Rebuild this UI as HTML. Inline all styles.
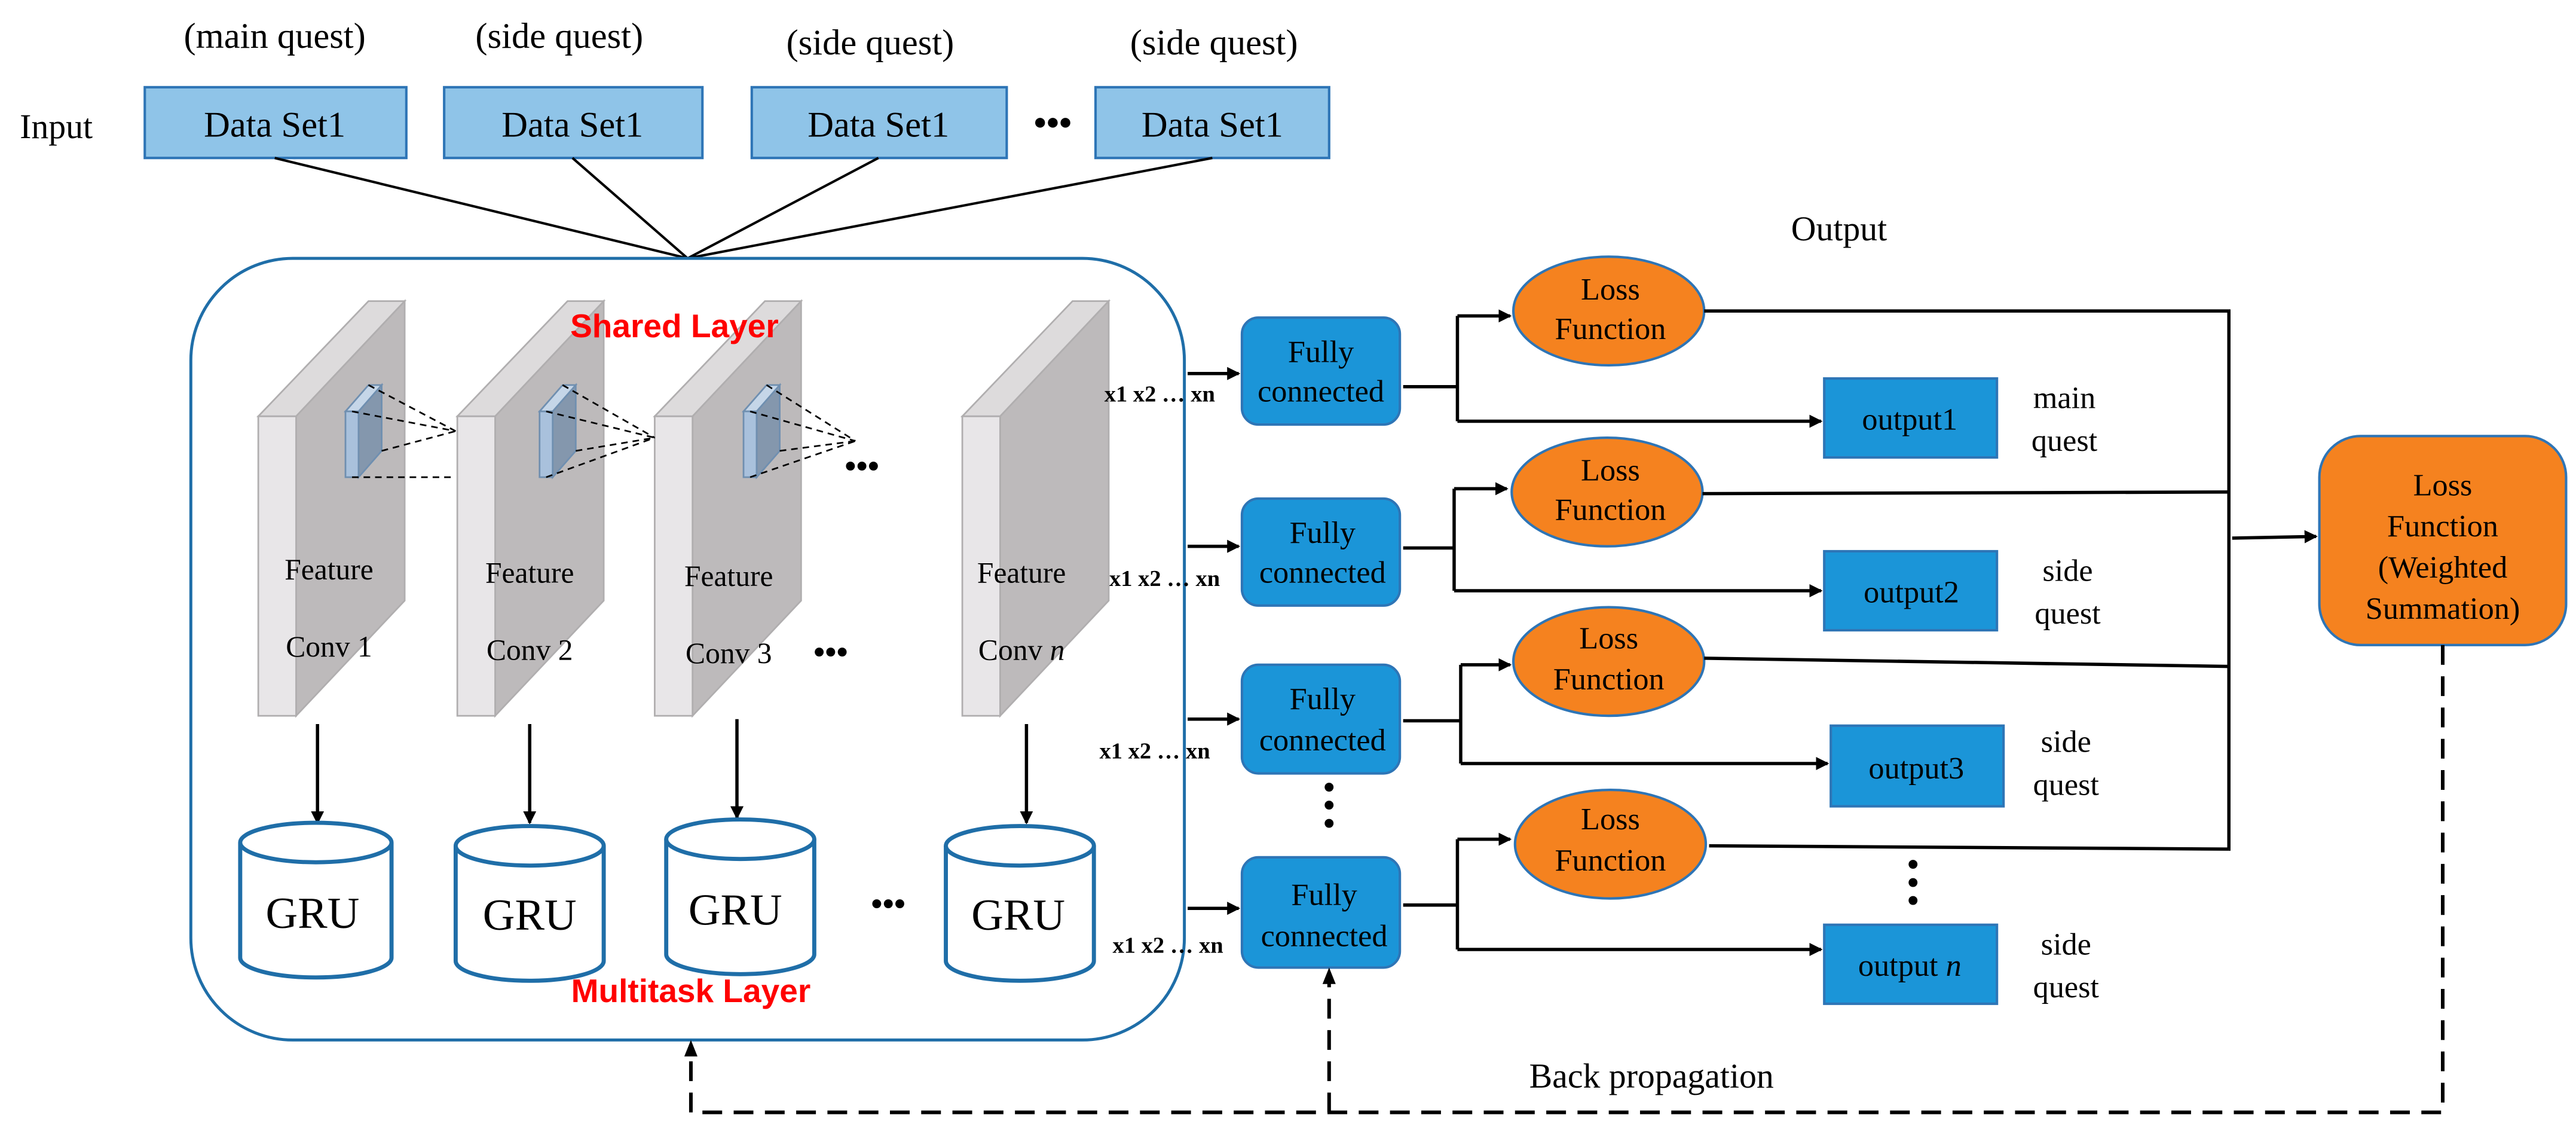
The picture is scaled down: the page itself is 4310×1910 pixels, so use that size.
<!DOCTYPE html>
<html><head><meta charset="utf-8"><style>html,body{margin:0;padding:0;background:#fff}svg{display:block}</style></head><body>
<svg width="4310" height="1910" viewBox="0 0 1566 694" xmlns="http://www.w3.org/2000/svg" font-family="Liberation Serif, serif">
<defs>
<marker id="ah" markerWidth="8" markerHeight="8" refX="7" refY="4" orient="auto" markerUnits="userSpaceOnUse"><path d="M0,0 L8,4 L0,8 z" fill="#000"/></marker>
</defs>
<rect width="1566" height="694" fill="#fff"/>
<text x="12" y="84" font-size="21">Input</text>
<g fill="#8fc4e8" stroke="#2e75b6" stroke-width="1.5">
<rect x="88" y="53" width="159" height="43"/>
<rect x="270" y="53" width="157" height="43"/>
<rect x="457" y="53" width="155" height="43"/>
<rect x="666" y="53" width="142" height="43"/>
</g>
<g font-size="22" text-anchor="middle">
<text x="167" y="83">Data Set1</text><text x="348" y="83">Data Set1</text><text x="534" y="83">Data Set1</text><text x="737" y="83">Data Set1</text>
<text x="167" y="29">(main quest)</text><text x="340" y="29">(side quest)</text><text x="529" y="33">(side quest)</text><text x="738" y="33">(side quest)</text>
</g>
<text x="640" y="82" font-size="22" text-anchor="middle" font-weight="bold">•••</text>
<g stroke="#000" stroke-width="1.5">
<line x1="167" y1="96" x2="418" y2="157"/><line x1="348" y1="96" x2="418" y2="157"/><line x1="534" y1="96" x2="418" y2="157"/><line x1="737" y1="96" x2="418" y2="157"/>
</g>
<rect x="116" y="157" width="604" height="475" rx="62" fill="none" stroke="#1f6ea8" stroke-width="1.8"/>
<g stroke="#b0aeaf" stroke-width="1">
<g id="s1">
<polygon points="157,253 180,253 246,183 224,183" fill="#dddbdc"/>
<polygon points="180,253 246,183 246,365 180,435" fill="#bdbabb"/>
<rect x="157" y="253" width="23" height="182" fill="#e8e6e8"/>
</g>
<use href="#s1" x="121"/><use href="#s1" x="241"/><use href="#s1" x="428"/>
</g>
<g stroke="#6f8fb0" stroke-width="1">
<polygon points="210,250 224,234 232,234 218,250" fill="#c5d6e8"/><rect x="210" y="250" width="8" height="40" fill="#a9c1dc"/><polygon points="218,250 232,234 232,274 218,290" fill="#8497ad"/>
<polygon points="328,250 342,234 350,234 336,250" fill="#c5d6e8"/><rect x="328" y="250" width="8" height="40" fill="#a9c1dc"/><polygon points="336,250 350,234 350,274 336,290" fill="#8497ad"/>
<polygon points="452,250 466,234 474,234 460,250" fill="#c5d6e8"/><rect x="452" y="250" width="8" height="40" fill="#a9c1dc"/><polygon points="460,250 474,234 474,274 460,290" fill="#8497ad"/>
</g>
<g stroke="#000" stroke-width="1" stroke-dasharray="4,3" fill="none">
<path d="M224,234 L277,262 M214,250 L277,262 M232,274 L277,262 M214,290 L277,290"/>
<path d="M342,234 L398,266 M332,250 L398,266 M350,274 L398,266 M332,290 L398,266"/>
<path d="M466,234 L520,268 M456,250 L520,268 M474,274 L520,268 M456,290 L520,268"/>
</g>
<g font-size="18" text-anchor="middle">
<text x="200" y="352">Feature</text><text x="200" y="399">Conv 1</text>
<text x="322" y="354">Feature</text><text x="322" y="401">Conv 2</text>
<text x="443" y="356">Feature</text><text x="443" y="403">Conv 3</text>
<text x="621" y="354">Feature</text><text x="621" y="401">Conv <tspan font-style="italic">n</tspan></text>
</g>
<g font-size="20" font-weight="bold" text-anchor="middle"><text x="524" y="290">•••</text><text x="505" y="403">•••</text><text x="540" y="556">•••</text></g>
<text x="410" y="205" font-family="Liberation Sans, sans-serif" font-size="20" font-weight="bold" fill="#ff0000" text-anchor="middle">Shared Layer</text>
<text x="420" y="609" font-family="Liberation Sans, sans-serif" font-size="20" font-weight="bold" fill="#ff0000" text-anchor="middle">Multitask  Layer</text>
<g stroke="#000" stroke-width="2" marker-end="url(#ah)">
<line x1="193" y1="440" x2="193" y2="500"/><line x1="322" y1="440" x2="322" y2="500"/><line x1="448" y1="437" x2="448" y2="497"/><line x1="624" y1="440" x2="624" y2="500"/>
</g>
<g fill="#fff" stroke="#1f6ea8" stroke-width="2.5">
<path d="M146,512 L146,582 A46,12 0 0 0 238,582 L238,512"/><ellipse cx="192" cy="512" rx="46" ry="12"/>
<path d="M277,514 L277,584 A45,12 0 0 0 367,584 L367,514"/><ellipse cx="322" cy="514" rx="45" ry="12"/>
<path d="M405,510 L405,580 A45,12 0 0 0 495,580 L495,510"/><ellipse cx="450" cy="510" rx="45" ry="12"/>
<path d="M575,514 L575,584 A45,12 0 0 0 665,584 L665,514"/><ellipse cx="620" cy="514" rx="45" ry="12"/>
</g>
<g font-size="27" text-anchor="middle"><text x="190" y="564">GRU</text><text x="322" y="565">GRU</text><text x="447" y="562">GRU</text><text x="619" y="565">GRU</text></g>
<g stroke="#000" stroke-width="2" marker-end="url(#ah)">
<line x1="722" y1="227" x2="753" y2="227"/><line x1="722" y1="332" x2="753" y2="332"/><line x1="722" y1="437" x2="753" y2="437"/><line x1="722" y1="552" x2="753" y2="552"/>
</g>
<g font-size="14" font-weight="bold" text-anchor="middle"><text x="705" y="244">x1 x2 … xn</text><text x="708" y="356">x1 x2 … xn</text><text x="702" y="461">x1 x2 … xn</text><text x="710" y="579">x1 x2 … xn</text></g>
<g fill="#1b95d8" stroke="#2e75b6" stroke-width="1.5">
<rect x="755" y="193" width="96" height="65" rx="10"/><rect x="755" y="303" width="96" height="65" rx="10"/><rect x="755" y="404" width="96" height="66" rx="10"/><rect x="755" y="521" width="96" height="67" rx="10"/>
</g>
<g font-size="19" text-anchor="middle">
<text x="803" y="220">Fully</text><text x="803" y="244">connected</text>
<text x="804" y="330">Fully</text><text x="804" y="354">connected</text>
<text x="804" y="431">Fully</text><text x="804" y="456">connected</text>
<text x="805" y="550">Fully</text><text x="805" y="575">connected</text>
</g>
<g font-size="20" font-weight="bold" text-anchor="middle"><text x="808" y="485">•</text><text x="808" y="496">•</text><text x="808" y="507">•</text>
<text x="1163" y="532">•</text><text x="1163" y="543">•</text><text x="1163" y="554">•</text></g>
<g stroke="#000" stroke-width="2" fill="none">
<path d="M853,235 L886,235 M886,192 L886,256"/><path d="M853,333 L884,333 M884,297 L884,359"/><path d="M853,438 L888,438 M888,404 L888,464"/><path d="M853,550 L886,550 M886,510 L886,577"/>
</g>
<g stroke="#000" stroke-width="2" marker-end="url(#ah)">
<line x1="886" y1="192" x2="918" y2="192"/><line x1="886" y1="256" x2="1107" y2="256"/>
<line x1="884" y1="297" x2="916" y2="297"/><line x1="884" y1="359" x2="1107" y2="359"/>
<line x1="888" y1="404" x2="918" y2="404"/><line x1="888" y1="464" x2="1111" y2="464"/>
<line x1="886" y1="510" x2="918" y2="510"/><line x1="886" y1="577" x2="1107" y2="577"/>
</g>
<g fill="#f5821f" stroke="#2e75b6" stroke-width="1.5">
<ellipse cx="978" cy="189" rx="58" ry="33"/><ellipse cx="977" cy="299" rx="58" ry="33"/><ellipse cx="978" cy="402" rx="58" ry="33"/><ellipse cx="979" cy="513" rx="58" ry="33"/>
</g>
<g font-size="19" text-anchor="middle">
<text x="979" y="182">Loss</text><text x="979" y="206">Function</text>
<text x="979" y="292">Loss</text><text x="979" y="316">Function</text>
<text x="978" y="394">Loss</text><text x="978" y="419">Function</text>
<text x="979" y="504">Loss</text><text x="979" y="529">Function</text>
</g>
<g fill="#1b95d8" stroke="#2e75b6" stroke-width="1.5">
<rect x="1109" y="230" width="105" height="48"/><rect x="1109" y="335" width="105" height="48"/><rect x="1113" y="441" width="105" height="49"/><rect x="1109" y="562" width="105" height="48"/>
</g>
<g font-size="19" text-anchor="middle">
<text x="1161" y="261">output1</text><text x="1162" y="366">output2</text><text x="1165" y="473">output3</text><text x="1161" y="593">output <tspan font-style="italic">n</tspan></text>
</g>
<g font-size="19" text-anchor="middle">
<text x="1255" y="248">main</text><text x="1255" y="274">quest</text>
<text x="1257" y="353">side</text><text x="1257" y="379">quest</text>
<text x="1256" y="457">side</text><text x="1256" y="483">quest</text>
<text x="1256" y="580">side</text><text x="1256" y="606">quest</text>
</g>
<g stroke="#000" stroke-width="2" fill="none">
<path d="M1036,189 L1355,189 L1355,516 L1039,514"/>
<path d="M1035,300 L1355,299"/><path d="M1036,400 L1355,405"/>
</g>
<line x1="1357" y1="327" x2="1408" y2="326" stroke="#000" stroke-width="2" marker-end="url(#ah)"/>
<rect x="1410" y="265" width="150" height="127" rx="25" fill="#f5821f" stroke="#2e75b6" stroke-width="1.5"/>
<g font-size="19" text-anchor="middle">
<text x="1485" y="301">Loss</text><text x="1485" y="326">Function</text><text x="1485" y="351">(Weighted</text><text x="1485" y="376">Summation)</text>
</g>
<text x="1118" y="146" font-size="21" text-anchor="middle">Output</text>
<text x="1004" y="661" font-size="21" text-anchor="middle">Back propagation</text>
<g stroke="#000" stroke-width="2.2" fill="none" stroke-dasharray="12,7">
<path d="M1485,392 L1485,676 L420,676 L420,640"/>
<path d="M808,676 L808,596"/>
</g>
<path d="M416,642 L420,632 L424,642 z M804,598 L808,588 L812,598 z" fill="#000"/>
</svg>
</body></html>
